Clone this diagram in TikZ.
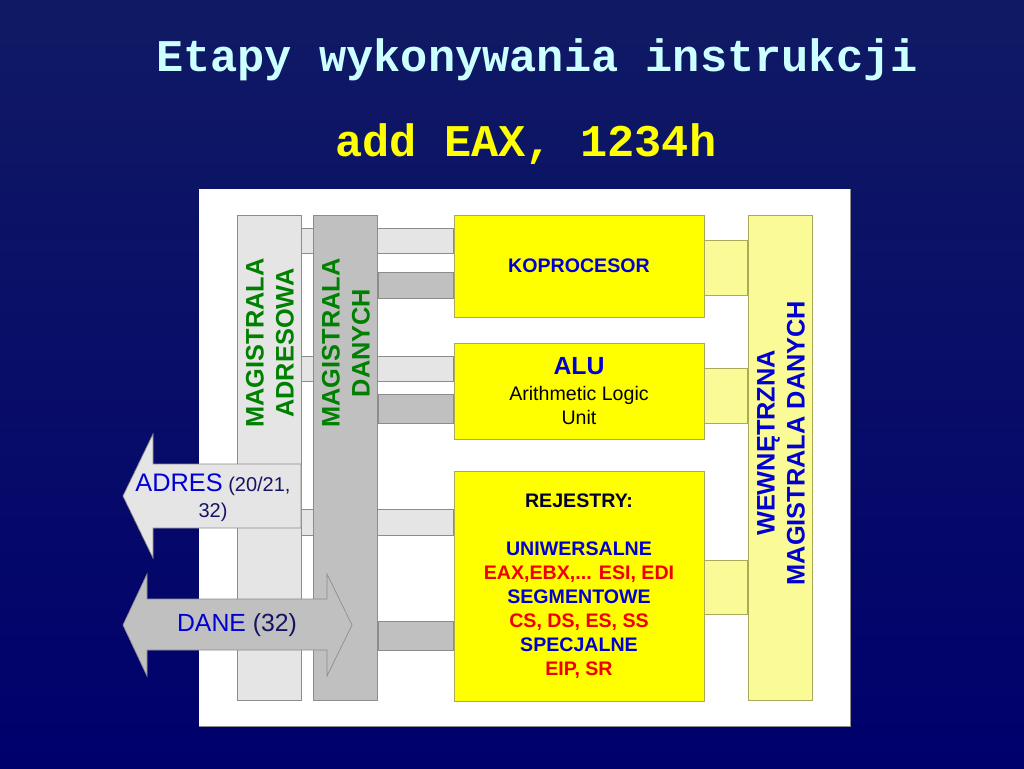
\documentclass[tikz,border=0pt]{standalone}
\usepackage{fontspec}
\setmainfont{Liberation Sans}
\newfontfamily\monobold{Liberation Mono}[BoldFont={* Bold}]
\definecolor{bgtop}{RGB}{16,26,100}
\definecolor{bgbot}{RGB}{0,0,108}
\definecolor{titlecyan}{RGB}{204,255,255}
\definecolor{titleyellow}{RGB}{255,255,0}
\definecolor{lgray}{RGB}{229,229,229}
\definecolor{mgray}{RGB}{192,192,192}
\definecolor{edgegray}{RGB}{140,140,140}
\definecolor{boxyellow}{RGB}{255,255,0}
\definecolor{boxedge}{RGB}{170,170,90}
\definecolor{lyellow}{RGB}{250,250,150}
\definecolor{txtblue}{RGB}{0,0,210}
\definecolor{txtnavy}{RGB}{20,20,100}
\definecolor{txtdark}{RGB}{0,0,50}
\definecolor{txtred}{RGB}{240,0,0}
\definecolor{txtgreen}{RGB}{0,128,0}
\pgfdeclarelayer{bg}
\pgfdeclarelayer{strips}
\pgfsetlayers{bg,strips,main}
\tikzset{
  bus/.style={draw=edgegray, line width=0.5pt, inner sep=0pt, minimum width=48pt, minimum height=363.75pt},
  unitbox/.style={draw=boxedge, fill=boxyellow, line width=0.5pt, inner sep=0pt, minimum width=187.5pt, align=center},
  stripl/.style={fill=lgray, draw=edgegray, line width=0.4pt},
  stripd/.style={fill=mgray, draw=edgegray, line width=0.4pt},
  stripy/.style={fill=lyellow, draw=boxedge, line width=0.4pt},
  bustext/.style={font=\fontsize{19}{22.5}\selectfont\bfseries, align=center, rotate=90, inner sep=0pt},
  arrowshape/.style={draw=edgegray, line width=0.5pt},
  rtxt/.style={font=\fontsize{14.7}{18}\selectfont\bfseries}
}
\begin{document}
\begin{tikzpicture}[x=0.75pt,y=-0.75pt]
\useasboundingbox (0,0) rectangle (1024,768);
\begin{pgfonlayer}{bg}
\shade[top color=bgtop, bottom color=bgbot] (0,0) rectangle (1024,768);
\fill[white] (199,189) rectangle (850,726);
\draw[edgegray, line width=0.5pt] (199,726) -- (850,726) -- (850,189);
\end{pgfonlayer}
% titles
\node[font=\monobold\bfseries\fontsize{34}{40}\selectfont, text=titlecyan] (title) at (537,60) {Etapy wykonywania instrukcji};
\node[font=\monobold\bfseries\fontsize{34}{40}\selectfont, text=titleyellow] (subtitle) at (526,144) {add EAX, 1234h};
% buses
\node[bus, fill=lgray] (adrbus) at (269,457.5) {};
\node[bus, fill=mgray] (datbus) at (345.5,457.5) {};
\node[bus, fill=lyellow, draw=boxedge] (intbus) at (780,457.5) {};
\node[bustext, text=txtgreen] (adrlbl) at (270,343) {MAGISTRALA\\ADRESOWA};
\node[bustext, text=txtgreen] (datlbl) at (346,343) {MAGISTRALA\\DANYCH};
\node[bustext, text=txtblue] (intlbl) at (781,443) {WEWNĘTRZNA\\MAGISTRALA DANYCH};
% units
\node[unitbox, minimum height=76.5pt] (kop) at (579,266) {};
\node[unitbox, minimum height=72pt] (alu) at (579,391) {};
\node[unitbox, minimum height=172.5pt] (rej) at (579,586) {};
\node[rtxt, text=txtblue] (koplbl) at (kop.center) {KOPROCESOR};
\node[font=\fontsize{14.7}{18}\selectfont, align=center, inner sep=0pt] (alulbl) at (579,391)
  {{\fontsize{18.6}{20}\selectfont\bfseries\color{txtblue}ALU}\\[1pt]Arithmetic Logic\\Unit};
\node[rtxt, align=center, inner sep=0pt] (rejlbl) at (579,586)
  {\color{txtdark}REJESTRY:\\[18pt]
   \color{txtblue}UNIWERSALNE\\
   \color{txtred}EAX,EBX,... ESI, EDI\\
   \color{txtblue}SEGMENTOWE\\
   \color{txtred}CS, DS, ES, SS\\
   \color{txtblue}SPECJALNE\\
   \color{txtred}EIP, SR};
% connecting strips
\begin{pgfonlayer}{strips}
\filldraw[stripl] (adrbus.east |- 0,228) rectangle (kop.west |- 0,253);
\filldraw[stripl] (adrbus.east |- 0,356) rectangle (alu.west |- 0,381);
\filldraw[stripl] (adrbus.east |- 0,509) rectangle (rej.west |- 0,535);
\filldraw[stripd] (datbus.east |- 0,272) rectangle (kop.west |- 0,298);
\filldraw[stripd] (datbus.east |- 0,394) rectangle (alu.west |- 0,423);
\filldraw[stripd] (datbus.east |- 0,621) rectangle (rej.west |- 0,650);
\filldraw[stripy] (kop.east |- 0,240) rectangle (intbus.west |- 0,295);
\filldraw[stripy] (alu.east |- 0,368) rectangle (intbus.west |- 0,423);
\filldraw[stripy] (rej.east |- 0,560) rectangle (intbus.west |- 0,614);
\end{pgfonlayer}
% external arrows
\filldraw[arrowshape, fill=lgray] (301,464) -- (153,464) -- (153,434) -- (123,496) -- (153,558) -- (153,528) -- (301,528) -- cycle;
\node[align=center, inner sep=0pt, font=\fontsize{15}{19.5}\selectfont, text=txtnavy] (adres) at (213,498)
  {{\fontsize{19}{19.5}\selectfont\color{txtblue}ADRES} (20/21,\\32)};
\filldraw[arrowshape, fill=mgray] (147,599) -- (327,599) -- (327,574) -- (352,625) -- (327,676) -- (327,650) -- (147,650) -- (147,676) -- (123,625) -- (147,574) -- cycle;
\node[inner sep=0pt, font=\fontsize{18.6}{22}\selectfont] (dane) at (237,625)
  {\color{txtblue}DANE \color{txtnavy}(32)};
\end{tikzpicture}
\end{document}
